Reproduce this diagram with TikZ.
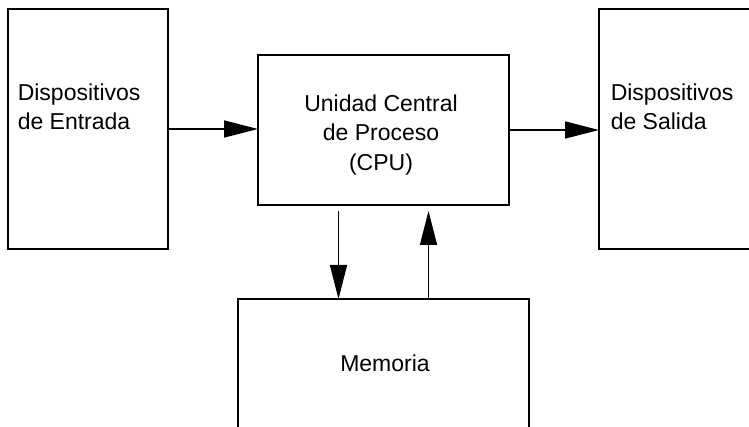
\documentclass[tikz,border=0pt]{standalone}
\usepackage{fontspec}
\setmainfont{Liberation Sans}
\usetikzlibrary{arrows.meta}

\begin{document}
\begin{tikzpicture}[x=1pt,y=-1pt,line width=1.5pt,>={Triangle[length=34pt,width=17pt]},
  box/.style={draw,rectangle,inner sep=0pt,outer sep=0pt,anchor=north west},
  txt/.style={font=\fontsize{23}{29.5}\selectfont,inner sep=0pt}]
\useasboundingbox (0,0) rectangle (749,427);
\clip (0,0) rectangle (749,427);
% ---------- boxes ----------
\node[box,minimum width=160pt,minimum height=240pt] (entrada) at (8,9) {};
\node[box,minimum width=251pt,minimum height=150pt] (cpu) at (258,55) {};
% salida and memoria run past the picture's edge
\node[box,minimum width=250pt,minimum height=240pt] (salida) at (599,9) {};
\node[box,minimum width=291pt,minimum height=200pt] (memoria) at (238,299) {};
% ---------- labels ----------
\node[txt,anchor=north west,align=left] (tentrada) at (17,83) {Dispositivos\\de Entrada};
\node[txt,anchor=north,align=center] (tcpu) at (381,94) {Unidad Central\\de Proceso\\(CPU)};
\node[txt,anchor=north west,align=left] (tsalida) at (610,83) {Dispositivos\\de Salida};
\node[txt,anchor=base] (tmemoria) at (385,371) {Memoria};
% ---------- arrows ----------
\coordinate (baja) at ([xshift=-45pt,yshift=-6pt]cpu.south);
\coordinate (sube) at ([xshift=45pt,yshift=-6pt]cpu.south);
\draw[->] (entrada.east) -- (entrada.east -| cpu.west);
\draw[->] (cpu.east) -- (salida.west |- cpu.east);
\draw[->] (baja) -- (baja |- memoria.north);
\draw[->] (sube |- memoria.north) -- (sube);
\end{tikzpicture}
\end{document}
